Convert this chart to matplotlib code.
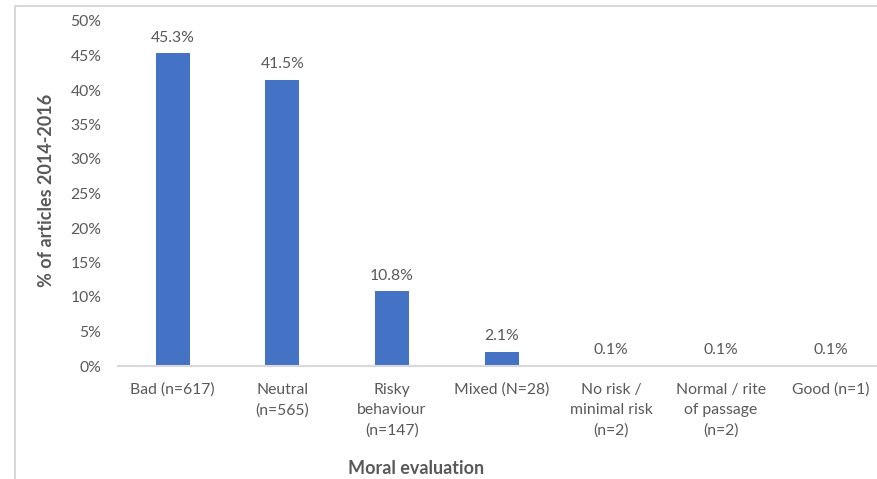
import matplotlib.pyplot as plt
from matplotlib.patches import Rectangle

categories = [
    "Bad (n=617)",
    "Neutral\n(n=565)",
    "Risky\nbehaviour\n(n=147)",
    "Mixed (N=28)",
    "No risk /\nminimal risk\n(n=2)",
    "Normal / rite\nof passage\n(n=2)",
    "Good (n=1)",
]
shares = [45.3, 41.5, 10.8, 2.1, 0.1, 0.1, 0.1]
y_ticks = [0, 5, 10, 15, 20, 25, 30, 35, 40, 45, 50]

W, H = 877, 479
plt.rcParams['font.family'] = ['Lato', 'DejaVu Sans']
text_color = "#595959"
line_color = "#D9D9D9"
bar_color = "#4472C4"

fig = plt.figure(figsize=(W / 100, H / 100), dpi=100)

# light chart-area frame (clipped on the right and bottom)
frame = Rectangle((15.5 / W, -0.1), 1.2, 1.1 - 6.5 / H, transform=fig.transFigure,
                  fill=False, edgecolor=line_color, linewidth=1.5)
fig.patches.append(frame)

ax = fig.add_axes([118 / W, (H - 366) / H, (W - 118) / W, 345 / H])
x = range(len(categories))
bars = ax.bar(x, shares, width=0.31, color=bar_color)

for xi, v in zip(x, shares):
    ax.annotate(f"{v:.1f}%", (xi, v), xytext=(0, 6), textcoords="offset points",
                ha="center", va="bottom", fontsize=11.3, color=text_color)

ax.set_xlim(-0.5, -0.5 + (W - 118) / 109.6)
ax.set_ylim(0, 50)
ax.set_yticks(y_ticks)
ax.set_yticklabels([f"{t}%" for t in y_ticks])
ax.set_xticks(list(x))
ax.set_xticklabels(categories, linespacing=1.55)
ax.tick_params(axis="both", length=0, labelsize=11.3, labelcolor=text_color)
ax.tick_params(axis="y", pad=12)
ax.tick_params(axis="x", pad=12)

for side in ("top", "right", "left"):
    ax.spines[side].set_visible(False)
ax.spines["bottom"].set_color(line_color)
ax.spines["bottom"].set_linewidth(1.5)

fig.text(47 / W, 1 - 190 / H, "% of articles 2014-2016", rotation=90, ha="center",
         va="center", fontsize=13, fontweight="bold", color=text_color)
fig.text(416 / W, 1 - 469 / H, "Moral evaluation", ha="center", va="center",
         fontsize=13, fontweight="bold", color=text_color)

fig.savefig("out.png", dpi=100)
